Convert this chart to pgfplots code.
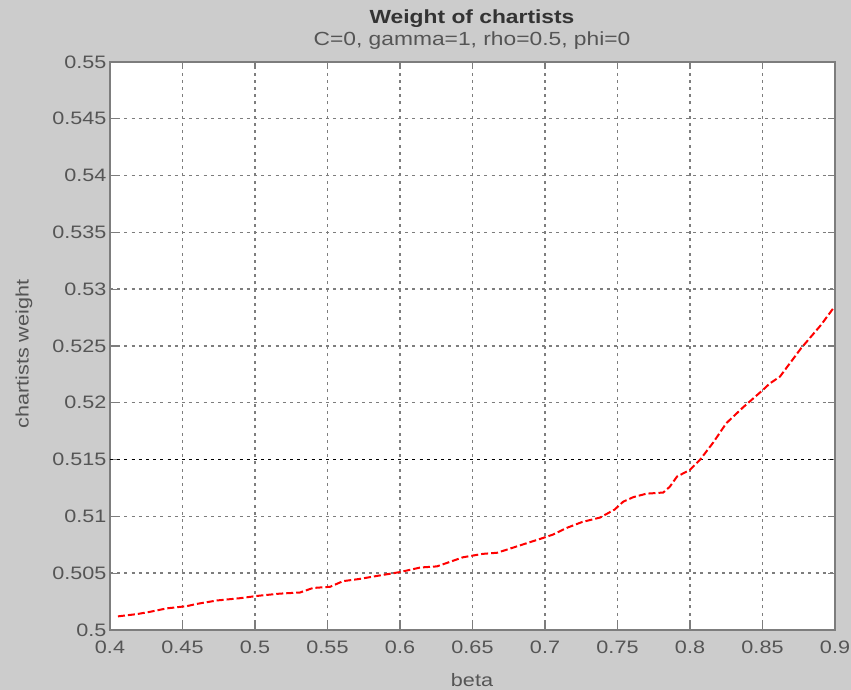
\documentclass[border=0pt]{standalone}
\usepackage{fontspec}
\setmainfont[FakeStretch=1.2]{Liberation Sans}
\usepackage{pgfplots}
\pgfplotsset{compat=1.18}
\definecolor{bg}{RGB}{204,204,204}
\definecolor{axgray}{RGB}{125,125,125}
\definecolor{txt}{RGB}{85,85,85}
\begin{document}
\begin{tikzpicture}[x=1pt,y=1pt]
\fill[bg] (0,0) rectangle (851,690);
\useasboundingbox (0,0) rectangle (851,690);
\begin{axis}[
  at={(110pt,60pt)}, anchor=south west,
  scale only axis, width=725pt, height=568pt,
  xmin=0.4, xmax=0.9, ymin=0.5, ymax=0.55,
  xtick={0.4,0.45,0.5,0.55,0.6,0.65,0.7,0.75,0.8,0.85,0.9},
  xticklabels={0.4,0.45,0.5,0.55,0.6,0.65,0.7,0.75,0.8,0.85,0.9},
  ytick={0.5,0.505,0.51,0.515,0.52,0.525,0.53,0.535,0.54,0.545,0.55},
  yticklabels={0.5,0.505,0.51,0.515,0.52,0.525,0.53,0.535,0.54,0.545,0.55},
  tick label style={font=\fontsize{18}{21}\selectfont, text=txt},
  /pgf/number format/assume math mode=true,
  axis background/.style={fill=white},
  axis line style={axgray, line width=1.8pt},
  grid=major,
  major grid style={axgray, dash pattern=on 3pt off 4.2pt, line width=1.4pt},
  tick style={axgray, line width=1.3pt},
  major tick length=7pt, tick align=inside,
  xticklabel style={yshift=-7pt},
  yticklabel style={xshift=0pt},
  clip=false,
]
\addplot[black, dash pattern=on 3pt off 4.2pt, line width=1.4pt, forget plot]
  coordinates {(0.4,0.515) (0.9,0.515)};
\addplot[red, line width=2pt, dash pattern=on 7pt off 3pt] coordinates {
(0.4055,0.5012) (0.4186,0.5014) (0.4276,0.5016) (0.439,0.5019) (0.453,0.5021)
(0.460,0.5023) (0.4738,0.5026) (0.4897,0.5028) (0.5014,0.5030) (0.517,0.5032)
(0.531,0.5033) (0.540,0.5037) (0.5517,0.5038) (0.5607,0.5043) (0.5724,0.5045)
(0.586,0.5048) (0.600,0.5051) (0.614,0.5055) (0.6255,0.5056) (0.6345,0.5060)
(0.6434,0.5064) (0.657,0.5067) (0.667,0.5068) (0.6986,0.5081) (0.7055,0.5084)
(0.7152,0.5090) (0.7255,0.5095) (0.738,0.5099) (0.748,0.5106) (0.754,0.5113)
(0.761,0.5117) (0.770,0.5120) (0.7815,0.5121) (0.786,0.5126) (0.791,0.5135)
(0.800,0.5141) (0.807,0.5150) (0.816,0.5165) (0.825,0.5182) (0.8366,0.5196)
(0.850,0.5211) (0.855,0.5217) (0.862,0.5223) (0.8766,0.5248) (0.890,0.5268)
(0.8993,0.5284)
};
\end{axis}
\node[font=\fontsize{19}{22}\selectfont\bfseries, text=black!80] at (472,671) {Weight of chartists};
\node[font=\fontsize{19}{22}\selectfont, text=txt] at (472,649) {C=0, gamma=1, rho=0.5, phi=0};
\node[font=\fontsize{18}{21}\selectfont, text=txt] at (472,10) {beta};
\node[font=\fontsize{18}{21}\selectfont, text=txt, rotate=90] at (24,336) {chartists weight};
\end{tikzpicture}
\end{document}
